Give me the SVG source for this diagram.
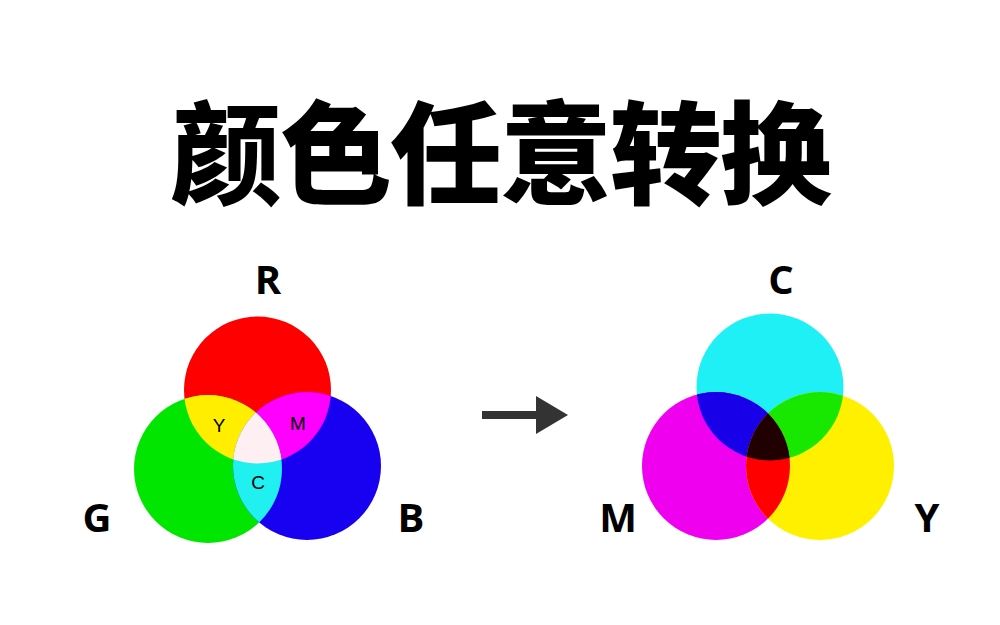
<svg xmlns="http://www.w3.org/2000/svg" width="1000" height="625" viewBox="0 0 1000 625">
<style>
.lbl{font-family:"Open Sans","Liberation Sans",sans-serif;font-weight:700;font-size:40px;fill:#000;text-anchor:middle}
.sm{font-family:"Liberation Sans",sans-serif;font-size:19px;fill:#000;text-anchor:middle}
.title{font-family:"Noto Sans CJK SC",sans-serif;font-weight:900;font-size:112px;fill:#000;text-anchor:middle}
</style>
<defs>
<clipPath id="cR"><circle cx="257.5" cy="390" r="73.5"/></clipPath>
<clipPath id="cB"><circle cx="307" cy="466" r="74"/></clipPath>
<clipPath id="cC"><circle cx="770" cy="387" r="73.5"/></clipPath>
<clipPath id="cY"><circle cx="820" cy="466" r="74"/></clipPath>
</defs>
<rect width="1000" height="625" fill="#fff"/>
<g id="title"><text class="title" x="500" y="196" letter-spacing="-2">颜色任意转换</text></g>
<g id="rgb">
<circle cx="257.5" cy="390" r="73.5" fill="#ff0000"/>
<circle cx="208" cy="469" r="74" fill="#00e600"/>
<circle cx="307" cy="466" r="74" fill="#1800f0"/>
<circle cx="208" cy="469" r="74" fill="#ffee00" clip-path="url(#cR)"/>
<circle cx="307" cy="466" r="74" fill="#ff00ff" clip-path="url(#cR)"/>
<circle cx="208" cy="469" r="74" fill="#20f0f0" clip-path="url(#cB)"/>
<g clip-path="url(#cR)"><circle cx="208" cy="469" r="74" fill="#fdeff2" clip-path="url(#cB)"/></g>
<text class="sm" x="219" y="432">Y</text>
<text class="sm" x="298" y="430">M</text>
<text class="sm" x="258" y="489">C</text>
</g>
<g id="cmy">
<circle cx="770" cy="387" r="73.5" fill="#1ff0f5"/>
<circle cx="716" cy="466" r="74" fill="#ef00ef"/>
<circle cx="820" cy="466" r="74" fill="#fff000"/>
<circle cx="716" cy="466" r="74" fill="#1800e8" clip-path="url(#cC)"/>
<circle cx="820" cy="466" r="74" fill="#18e800" clip-path="url(#cC)"/>
<circle cx="716" cy="466" r="74" fill="#ff0000" clip-path="url(#cY)"/>
<g clip-path="url(#cC)"><circle cx="716" cy="466" r="74" fill="#200000" clip-path="url(#cY)"/></g>
</g>
<g id="labels">
<text class="lbl" x="268" y="294">R</text>
<text class="lbl" x="97" y="532">G</text>
<text class="lbl" x="411" y="532">B</text>
<text class="lbl" x="781" y="294">C</text>
<text class="lbl" x="618" y="532">M</text>
<text class="lbl" x="927" y="532">Y</text>
</g>
<g id="connectors">
<line x1="482" y1="415" x2="545" y2="415" stroke="#333" stroke-width="8"/>
<polygon points="536,396 568,415 536,434" fill="#333"/>
</g>
</svg>
